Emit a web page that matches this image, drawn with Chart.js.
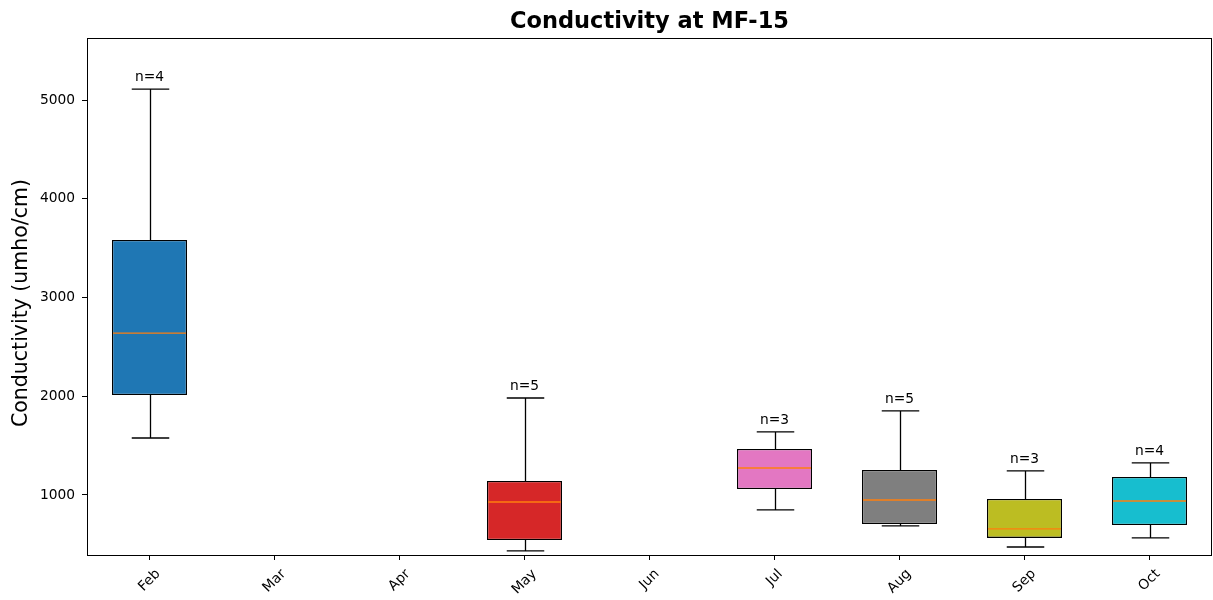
<!DOCTYPE html>
<html>
<head>
<meta charset="utf-8">
<script src="https://cdn.jsdelivr.net/npm/chart.js@4/dist/chart.umd.min.js"></script>
<style>
  html, body { margin: 0; padding: 0; background: #fff; }
  #wrap { width: 1213px; height: 600px; }
</style>
</head>
<body>
<div id="wrap"><canvas id="c" width="1213" height="600"></canvas></div>
<script>
// Monthly conductivity summary at MF-15 (box-and-whisker statistics)
const months      = ['Feb', 'Mar', 'Apr', 'May', 'Jun', 'Jul', 'Aug', 'Sep', 'Oct'];
const whiskerLow  = [1577, null, null,  433, null,  848,  686,  473,  565];
const quartile1   = [2013, null, null,  544, null, 1061,  706,  565,  696];
const medians     = [2640, null, null,  929, null, 1273,  949,  656,  939];
const quartile3   = [3582, null, null, 1142, null, 1466, 1253,  959, 1182];
const whiskerHigh = [5111, null, null, 1982, null, 1638, 1851, 1243, 1324];
const counts      = [4,    null, null,  5,   null,  3,    5,    3,    4];
const yTicks      = [1000, 2000, 3000, 4000, 5000];
const boxColors   = ['#1f77b4', null, null, '#d62728', null, '#e377c2', '#7f7f7f', '#bcbd22', '#17becf'];

const FONT = "'DejaVu Sans', sans-serif";
const TICK_SIZE = 13.8;

const boxData = months.map((m, i) => quartile1[i] == null ? null : [quartile1[i], quartile3[i]]);

const boxPlotExtras = {
  id: 'boxPlotExtras',
  beforeDatasetsDraw(chart) {
    const ctx = chart.ctx;
    const y = chart.scales.y;
    const meta = chart.getDatasetMeta(0);
    ctx.save();
    ctx.strokeStyle = '#000';
    ctx.lineWidth = 1.3;
    meta.data.forEach((bar, i) => {
      if (quartile1[i] == null) return;
      const x = Math.round(bar.x) + 0.5;
      const capHalf = bar.width / 4;
      const yLo = y.getPixelForValue(whiskerLow[i]);
      const yQ1 = y.getPixelForValue(quartile1[i]);
      const yQ3 = y.getPixelForValue(quartile3[i]);
      const yHi = y.getPixelForValue(whiskerHigh[i]);
      ctx.beginPath();
      ctx.moveTo(x, yQ3); ctx.lineTo(x, yHi);
      ctx.moveTo(x, yQ1); ctx.lineTo(x, yLo);
      ctx.moveTo(x - capHalf, yHi); ctx.lineTo(x + capHalf, yHi);
      ctx.moveTo(x - capHalf, yLo); ctx.lineTo(x + capHalf, yLo);
      ctx.stroke();
    });
    ctx.restore();
  },
  afterDatasetsDraw(chart) {
    const ctx = chart.ctx;
    const y = chart.scales.y;
    const meta = chart.getDatasetMeta(0);
    ctx.save();
    meta.data.forEach((bar, i) => {
      if (quartile1[i] == null) return;
      const half = bar.width / 2;
      const yMed = y.getPixelForValue(medians[i]);
      ctx.strokeStyle = '#ff7f0e';
      ctx.lineWidth = 1.3;
      ctx.beginPath();
      ctx.moveTo(bar.x - half + 1, yMed); ctx.lineTo(bar.x + half - 1, yMed);
      ctx.stroke();
      // sample count label above the upper whisker
      const yHi = y.getPixelForValue(whiskerHigh[i]);
      ctx.fillStyle = '#000';
      ctx.font = TICK_SIZE + 'px ' + FONT;
      ctx.textAlign = 'center';
      ctx.textBaseline = 'bottom';
      ctx.fillText('n=' + counts[i], bar.x, yHi - 5);
    });
    ctx.restore();
  },
  afterDraw(chart) {
    const ctx = chart.ctx;
    const a = chart.chartArea;
    const x = chart.scales.x;
    ctx.save();
    // frame around the plot area
    ctx.strokeStyle = '#000';
    ctx.lineWidth = 1;
    ctx.strokeRect(Math.round(a.left) + 0.5, Math.round(a.top) + 0.5,
                   Math.round(a.right - a.left) - 1, Math.round(a.bottom - a.top));
    // rotated month labels, centred under each tick
    ctx.fillStyle = '#000';
    ctx.font = TICK_SIZE + 'px ' + FONT;
    ctx.textAlign = 'center';
    ctx.textBaseline = 'middle';
    const h = TICK_SIZE;
    months.forEach((m, i) => {
      const px = x.getPixelForTick(i);
      const w = ctx.measureText(m).width;
      const boxH = (w + h) * Math.SQRT1_2;
      const cy = a.bottom + 12 + boxH / 2;
      ctx.save();
      ctx.translate(px, cy);
      ctx.rotate(-Math.PI / 4);
      ctx.fillText(m, 0, 0);
      ctx.restore();
    });
    // chart title
    ctx.font = 'bold 22.5px ' + FONT;
    ctx.textAlign = 'center';
    ctx.textBaseline = 'middle';
    ctx.fillText('Conductivity at MF-15', (a.left + a.right) / 2, 22);
    // y-axis title
    ctx.font = '20.5px ' + FONT;
    ctx.save();
    ctx.translate(22, 303);
    ctx.rotate(-Math.PI / 2);
    ctx.fillText('Conductivity (umho/cm)', 0, 0);
    ctx.restore();
    ctx.restore();
  }
};

new Chart(document.getElementById('c'), {
  type: 'bar',
  data: {
    labels: months,
    datasets: [{
      data: boxData,
      backgroundColor: boxColors,
      borderColor: '#000',
      borderWidth: 1.3,
      borderSkipped: false,
      barPercentage: 0.6,
      categoryPercentage: 1.0
    }]
  },
  options: {
    responsive: false,
    animation: false,
    layout: { padding: { top: 38, right: 1, left: 0, bottom: 0 } },
    plugins: { legend: { display: false }, tooltip: { enabled: false }, title: { display: false } },
    scales: {
      x: {
        offset: true,
        grid: { display: true, drawOnChartArea: false, drawTicks: true, tickLength: 5, color: '#000', offset: false },
        border: { display: false },
        ticks: { display: false },
        afterFit(scale) { scale.height = 45; }
      },
      y: {
        min: 392,
        max: 5628,
        grid: { display: true, drawOnChartArea: false, drawTicks: true, tickLength: 5, color: '#000' },
        border: { display: false },
        ticks: {
          color: '#000',
          font: { family: FONT, size: TICK_SIZE },
          padding: 7,
          callback: (v) => String(v)
        },
        afterBuildTicks(scale) { scale.ticks = yTicks.map(v => ({ value: v })); },
        afterFit(scale) { scale.width = 87; }
      }
    }
  },
  plugins: [boxPlotExtras]
});
</script>
</body>
</html>
